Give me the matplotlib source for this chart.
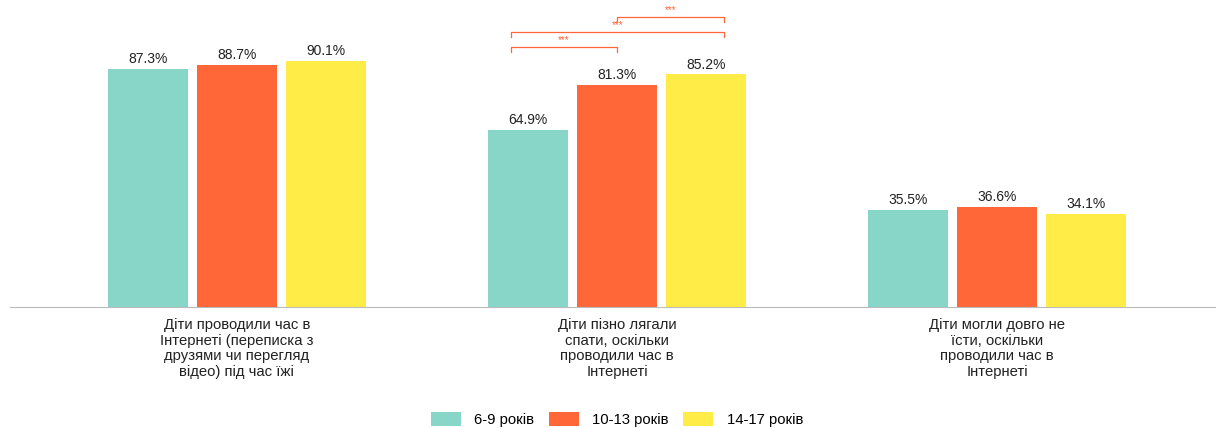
import matplotlib.pyplot as plt
import numpy as np

plt.rcParams['font.family'] = ['Liberation Sans', 'DejaVu Sans']

categories = [
    "Діти проводили час в\nІнтернеті (переписка з\nдрузями чи перегляд\nвідео) під час їжі",
    "Діти пізно лягали\nспати, оскільки\nпроводили час в\nІнтернеті",
    "Діти могли довго не\nїсти, оскільки\nпроводили час в\nІнтернеті",
]
groups = ["6-9 років", "10-13 років", "14-17 років"]
age_6_9 = [87.3, 64.9, 35.5]
age_10_13 = [88.7, 81.3, 36.6]
age_14_17 = [90.1, 85.2, 34.1]
colors = ["#88D6C8", "#FF6638", "#FFEC47"]

# significance brackets in the second group: (left, right, level)
brackets = [(-0.279, 0.0, 95.2), (-0.279, 0.282, 100.7), (0.0, 0.282, 106.2)]

fig = plt.figure(figsize=(12.16, 4.28), dpi=100)
ax = fig.add_axes([10 / 1216, (428 - 307) / 428, 1 - 10 / 1216, 297 / 428])

x = np.arange(len(categories))
width = 0.21
step = 0.234
for i, (vals, name) in enumerate(zip([age_6_9, age_10_13, age_14_17], groups)):
    bars = ax.bar(x + (i - 1) * step, vals, width, color=colors[i], label=name)
    for b, v in zip(bars, vals):
        ax.annotate(f"{v}%", (b.get_x() + b.get_width() / 2, v),
                    xytext=(0, 2), textcoords='offset points',
                    ha='center', va='bottom', fontsize=10, color='#222222')

for x0, x1, y in brackets:
    ax.plot([1 + x0, 1 + x0, 1 + x1, 1 + x1], [y - 1.8, y, y, y - 1.8],
            color='#FF6638', lw=0.9)
    ax.text(1 + (x0 + x1) / 2, y + 0.6, "***", ha='center', va='bottom',
            fontsize=7, color='#FF6638')

ax.set_xlim(-0.597, 2.576)
ax.set_ylim(0, 108.8)
ax.set_xticks(x)
ax.set_xticklabels(categories, fontsize=10.7, color='#222222', linespacing=1.15)
ax.tick_params(axis='x', length=0, pad=8)
ax.set_yticks([])
for s in ['top', 'right', 'left']:
    ax.spines[s].set_visible(False)
ax.spines['bottom'].set_color('#BBBBBB')

fig.legend(loc='upper center', bbox_to_anchor=(617 / 1216, 25 / 428), ncol=3,
           frameon=False, fontsize=10.7, handlelength=2.0, handleheight=1.1,
           columnspacing=1.0, handletextpad=0.9, borderaxespad=0.2)

fig.savefig('out.png', dpi=100)
